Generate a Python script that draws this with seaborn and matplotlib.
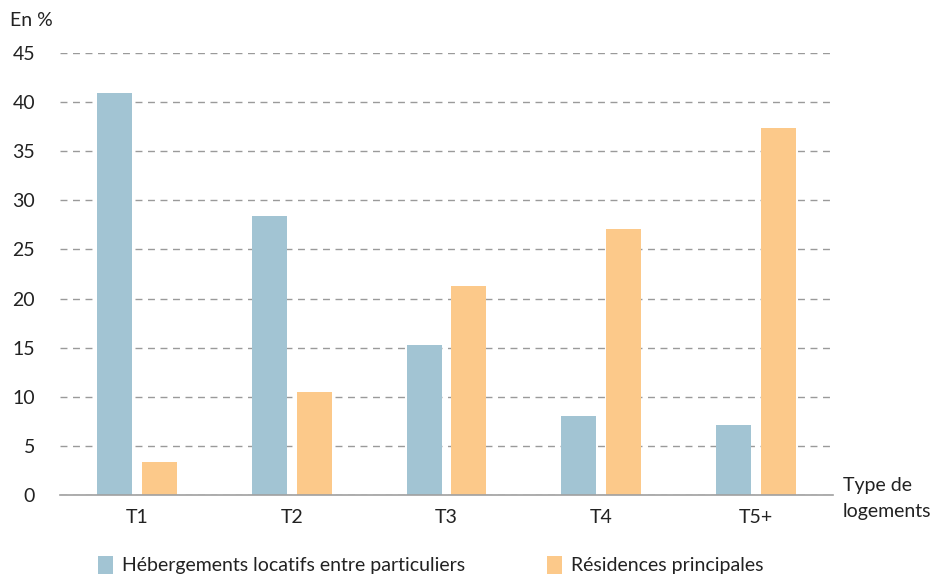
import matplotlib
matplotlib.use("Agg")
import matplotlib.pyplot as plt
import seaborn as sns
import pandas as pd
from matplotlib.patches import Rectangle

categories = ["T1", "T2", "T3", "T4", "T5+"]
series_names = ["Hébergements locatifs entre particuliers", "Résidences principales"]
hebergements = [40.9, 28.4, 15.3, 8.0, 7.1]
residences = [3.4, 10.5, 21.3, 27.1, 37.4]
yticks = [0, 5, 10, 15, 20, 25, 30, 35, 40, 45]

colors = ["#A2C4D3", "#FCC98A"]
FS = 14

sns.set_theme(style="white")
plt.rcParams['font.family'] = ['Lato', 'DejaVu Sans']

df = pd.DataFrame({
    "cat": categories * 2,
    "val": hebergements + residences,
    "serie": [series_names[0]] * 5 + [series_names[1]] * 5,
})

fig = plt.figure(figsize=(9.39, 5.85), dpi=100)
ax = fig.add_axes([60/939, 90/585, 773/939, 442/585])

sns.barplot(data=df, x="cat", y="val", hue="serie", palette=colors,
            width=0.58, gap=0.22, ax=ax, legend=False, saturation=1,
            linewidth=0, edgecolor="none")

ax.set_xlim(-0.5, 4.5)
ax.set_ylim(0, 45)
ax.set_yticks(yticks)
ax.set_yticklabels([str(t) for t in yticks], fontsize=FS, color="#222222")
ax.tick_params(axis="x", labelsize=FS, colors="#222222", length=0, pad=10)
ax.tick_params(axis="y", length=0, pad=18)
ax.set_xlabel("")
ax.set_ylabel("")
ax.yaxis.grid(True, linestyle=(0, (5, 4)), color="#9a9a9a", linewidth=1)
ax.xaxis.grid(False)
ax.set_axisbelow(True)
for s in ["top", "right", "left"]:
    ax.spines[s].set_visible(False)
ax.spines["bottom"].set_color("#a0a0a0")
ax.spines["bottom"].set_linewidth(1.2)

fig.text(10/939, 1 - 20/585, "En %", fontsize=FS, va="center", ha="left", color="#222222")
fig.text(843/939, 1 - 486/585, "Type de", fontsize=FS, va="center", ha="left", color="#222222")
fig.text(843/939, 1 - 511/585, "logements", fontsize=FS, va="center", ha="left", color="#222222")

# legend
fig.patches.append(Rectangle((98/939, 1 - 574/585), 15/939, 18/585, transform=fig.transFigure,
                             facecolor=colors[0], edgecolor="none"))
fig.text(122/939, 1 - 565/585, series_names[0], fontsize=FS, va="center", ha="left", color="#222222")
fig.patches.append(Rectangle((547/939, 1 - 574/585), 15/939, 18/585, transform=fig.transFigure,
                             facecolor=colors[1], edgecolor="none"))
fig.text(571/939, 1 - 565/585, series_names[1], fontsize=FS, va="center", ha="left", color="#222222")

fig.savefig("out.png", dpi=100, facecolor="white")
